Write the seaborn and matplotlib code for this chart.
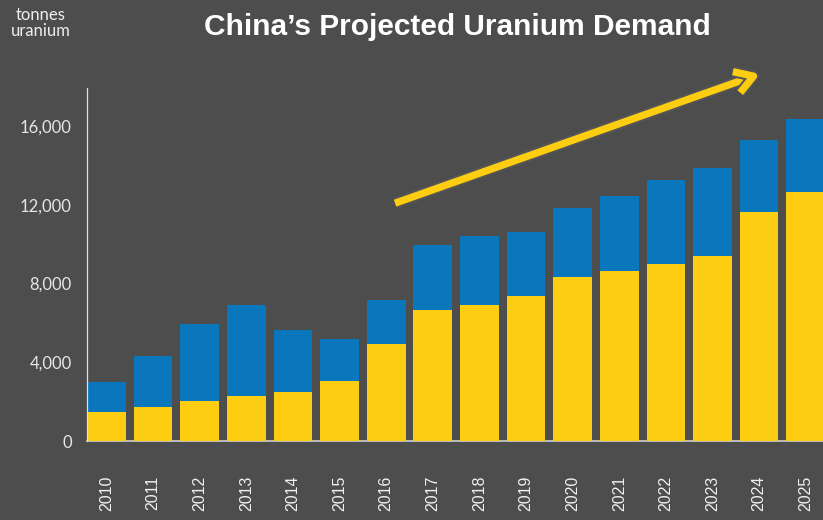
import matplotlib
matplotlib.use('Agg')
import matplotlib.pyplot as plt
import matplotlib.patheffects as pe
import pandas as pd
import seaborn as sns

years = [str(y) for y in range(2010, 2026)]
# total projected demand (top of blue part) and the yellow base part, tonnes uranium
total_demand = [3000, 4320, 5960, 6890, 5620, 5200, 7140, 9970,
                10430, 10600, 11830, 12420, 13250, 13890, 15270, 16340]
base_demand = [1480, 1740, 2040, 2300, 2480, 3040, 4910, 6630,
               6890, 7360, 8320, 8660, 9000, 9400, 11650, 12670]
y_ticks = [0, 4000, 8000, 12000, 16000]

bg = '#4d4d4d'
blue = '#0a77bd'
yellow = '#fccd10'

df = pd.DataFrame({'Year': years, 'Total': total_demand, 'Base': base_demand})

sns.set_style('dark')
plt.rcParams['font.family'] = ['Lato', 'DejaVu Sans']

fig = plt.figure(figsize=(8.23, 5.2), dpi=100, facecolor=bg)
ax = fig.add_axes([87 / 823, 1 - 441 / 520, (823 - 87) / 823, (441 - 88) / 520])
ax.set_facecolor(bg)

sns.barplot(data=df, x='Year', y='Total', color=blue, width=0.83, saturation=1,
            linewidth=0, ax=ax)
sns.barplot(data=df, x='Year', y='Base', color=yellow, width=0.83, saturation=1,
            linewidth=0, ax=ax)

ax.set_xlim(-0.418, 15.37)
ax.set_ylim(0, 17930)
ax.set_yticks(y_ticks)
ax.set_yticklabels([f'{v:,}' for v in y_ticks], color='#e6e6e6', fontsize=12)
ax.tick_params(axis='y', length=0, pad=11)
ax.tick_params(axis='x', length=0, pad=25)
for lab in ax.get_xticklabels():
    lab.set_rotation(90)
    lab.set_family('Liberation Sans')
    lab.set_fontsize(11.5)
    lab.set_color('#f0f0f0')
ax.set_xlabel('')
ax.set_ylabel('')
ax.grid(False)

for s in ['top', 'right']:
    ax.spines[s].set_visible(False)
ax.spines['left'].set_color('#dddddd')
ax.spines['left'].set_linewidth(0.9)
ax.spines['bottom'].set_color('#cfcfcf')
ax.spines['bottom'].set_linewidth(1.2)
ax.spines['bottom'].set_zorder(0.5)

fig.text(457 / 823, 1 - 27 / 520, 'China\u2019s Projected Uranium Demand', ha='center', va='center',
         fontsize=21.5, fontweight='bold', color='white', family=['Liberation Sans', 'DejaVu Sans'])
fig.text(41 / 823, 1 - 23 / 520, 'tonnes\nuranium', ha='center', va='center', fontsize=12,
         color='#eeeeee', linespacing=0.95)

ax.annotate('', xy=(14.02, 18650), xytext=(6.19, 12080), annotation_clip=False,
            arrowprops=dict(arrowstyle='->,head_length=1.3,head_width=0.8', color=yellow, lw=5.2,
                            shrinkA=0, shrinkB=0, capstyle='butt', joinstyle='round',
                            path_effects=[pe.withStroke(linewidth=8, foreground='#555555')]))

fig.savefig('out.png', dpi=100, facecolor=bg)
